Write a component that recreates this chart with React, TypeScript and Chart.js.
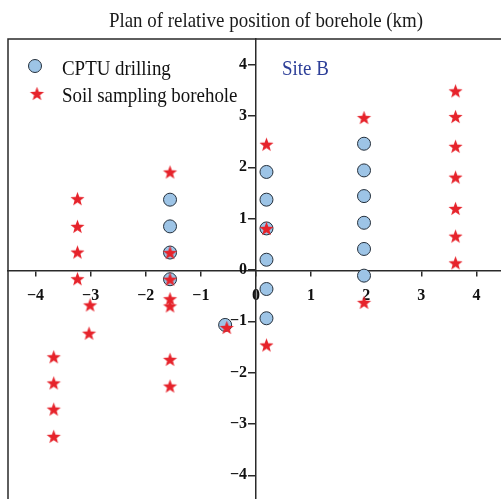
import React, { useEffect, useRef } from 'react';
import { Chart, registerables } from 'chart.js';

Chart.register(...registerables);

// ---- data ----
const tickValues = [-4, -3, -2, -1, 0, 1, 2, 3, 4];

const cptuX = [
  -1.56, -1.56, -1.56, -1.56,
  -0.56,
  0.19, 0.19, 0.19, 0.19, 0.19, 0.19,
  1.96, 1.96, 1.96, 1.96, 1.96, 1.96,
];
const cptuY = [
  1.37, 0.85, 0.34, -0.18,
  -1.07,
  1.91, 1.37, 0.81, 0.2, -0.37, -0.94,
  2.46, 1.94, 1.44, 0.92, 0.41, -0.11,
];

const soilX = [
  -3.67, -3.67, -3.67, -3.67,
  -3.24, -3.24, -3.24, -3.24,
  -3.01, -3.03,
  -1.56, -1.56, -1.56, -1.56, -1.56, -1.56, -1.56,
  -0.53,
  0.19, 0.19, 0.19,
  1.96, 1.96,
  3.62, 3.62, 3.62, 3.62, 3.62, 3.62, 3.62,
];
const soilY = [
  -1.69, -2.2, -2.71, -3.24,
  1.39, 0.85, 0.35, -0.17,
  -0.68, -1.23,
  1.91, 0.34, -0.18, -0.56, -0.7, -1.74, -2.26,
  -1.12,
  2.45, 0.81, -1.46,
  2.97, -0.63,
  3.49, 2.99, 2.41, 1.81, 1.2, 0.66, 0.14,
];

const titleText = 'Plan of relative position of borehole (km)';
const legendLabels = ['CPTU drilling', 'Soil sampling borehole'];
const siteLabel = 'Site B';

// ---- styles ----
const W = 520;
const H = 520;
const CIRCLE_FILL = '#9dc4e6';
const CIRCLE_EDGE = '#25303c';
const STAR_RED = '#e6232b';
const AXIS_COLOR = '#2a2a2a';
const SERIF = "'Liberation Serif', 'Times New Roman', serif";
const SX = 0.86;

function makeStar(R: number, r: number, color: string): HTMLCanvasElement {
  const size = Math.ceil(2 * R) + 2;
  const c = document.createElement('canvas');
  c.width = size;
  c.height = size;
  const ctx = c.getContext('2d')!;
  ctx.fillStyle = color;
  ctx.beginPath();
  const cx = size / 2;
  const cy = size / 2 + (R - R * Math.cos(Math.PI / 5)) / 2;
  for (let i = 0; i < 10; i++) {
    const rad = i % 2 === 0 ? R : r;
    const a = -Math.PI / 2 + (i * Math.PI) / 5;
    const px = cx + rad * Math.cos(a);
    const py = cy + rad * Math.sin(a);
    if (i === 0) ctx.moveTo(px, py);
    else ctx.lineTo(px, py);
  }
  ctx.closePath();
  ctx.fill();
  return c;
}

const fmt = (v: number | string) => {
  const n = Number(v);
  return n < 0 ? '\u2212' + Math.abs(n) : String(n);
};

function drawSqueezed(
  ctx: CanvasRenderingContext2D,
  text: string,
  x: number,
  y: number,
  align: CanvasTextAlign,
  font: string,
  color: string
) {
  ctx.save();
  ctx.translate(x, y);
  ctx.scale(SX, 1);
  ctx.font = font;
  ctx.fillStyle = color;
  ctx.textAlign = align;
  ctx.textBaseline = 'alphabetic';
  ctx.fillText(text, 0, 0);
  ctx.restore();
}

export default function App() {
  const ref = useRef<HTMLCanvasElement | null>(null);

  useEffect(() => {
    if (!ref.current) return;
    const starImg = makeStar(7.4, 3.1, STAR_RED);

    const deco = {
      id: 'deco',
      beforeDatasetsDraw(chart: any) {
        const { ctx, chartArea } = chart;
        ctx.save();
        ctx.strokeStyle = AXIS_COLOR;
        ctx.lineWidth = 1.5;
        ctx.strokeRect(
          chartArea.left,
          chartArea.top,
          chartArea.right - chartArea.left,
          chartArea.bottom - chartArea.top
        );
        ctx.restore();
      },
      afterDraw(chart: any) {
        const { ctx } = chart;
        // title
        drawSqueezed(ctx, titleText, 266, 27, 'center', `22px ${SERIF}`, '#1a1a1a');
        // legend
        ctx.save();
        ctx.beginPath();
        ctx.arc(35, 66, 6.5, 0, Math.PI * 2);
        ctx.fillStyle = CIRCLE_FILL;
        ctx.fill();
        ctx.lineWidth = 1;
        ctx.strokeStyle = CIRCLE_EDGE;
        ctx.stroke();
        ctx.drawImage(starImg, 37 - starImg.width / 2, 93.5 - starImg.height / 2);
        ctx.restore();
        drawSqueezed(ctx, legendLabels[0], 62, 75, 'left', `22px ${SERIF}`, '#111');
        drawSqueezed(ctx, legendLabels[1], 62, 102, 'left', `22px ${SERIF}`, '#111');
        // site label
        drawSqueezed(ctx, siteLabel, 282, 75, 'left', `22px ${SERIF}`, '#2d3f98');
      },
    };

    const tickFont = { family: SERIF, size: 16, weight: 'bold' as const };

    const chart = new Chart(ref.current, {
      type: 'scatter',
      data: {
        datasets: [
          {
            label: legendLabels[1],
            data: soilX.map((x, i) => ({ x, y: soilY[i] })),
            pointStyle: starImg as any,
            pointRadius: 7,
            order: 1,
          },
          {
            label: legendLabels[0],
            data: cptuX.map((x, i) => ({ x, y: cptuY[i] })),
            pointStyle: 'circle',
            pointRadius: 6.5,
            backgroundColor: CIRCLE_FILL,
            borderColor: CIRCLE_EDGE,
            borderWidth: 1,
            order: 2,
          },
        ],
      },
      options: {
        animation: false,
        responsive: false,
        maintainAspectRatio: false,
        events: [],
        layout: { padding: { left: 8, top: 39, right: W - 504, bottom: H - 501 } },
        plugins: {
          legend: { display: false },
          title: { display: false },
          tooltip: { enabled: false },
        },
        scales: {
          x: {
            type: 'linear',
            min: -4.5,
            max: 4.5,
            position: 'center',
            afterFit: (s: any) => {
              s.height = 0;
            },
            afterBuildTicks: (s: any) => {
              s.ticks = tickValues.map((v) => ({ value: v }));
            },
            grid: {
              drawOnChartArea: false,
              drawTicks: true,
              tickLength: 5,
              color: AXIS_COLOR,
              lineWidth: 1.5,
            },
            border: { display: true, color: AXIS_COLOR, width: 1.5 },
            ticks: {
              font: tickFont,
              color: '#111',
              padding: 11,
              maxRotation: 0,
              autoSkip: false,
              callback: (v: any) => fmt(v),
            },
          },
          y: {
            type: 'linear',
            min: -4.5,
            max: 4.5,
            position: 'center',
            afterFit: (s: any) => {
              s.width = 0;
            },
            afterBuildTicks: (s: any) => {
              s.ticks = tickValues.map((v) => ({ value: v }));
            },
            grid: {
              drawOnChartArea: false,
              drawTicks: true,
              tickLength: 7,
              color: AXIS_COLOR,
              lineWidth: 1.5,
            },
            border: { display: true, color: AXIS_COLOR, width: 1.5 },
            ticks: {
              font: tickFont,
              color: '#111',
              padding: 2,
              autoSkip: false,
              callback: (v: any) => fmt(v),
            },
          },
        },
      },
      plugins: [deco],
    });

    return () => chart.destroy();
  }, []);

  return (
    <div
      style={{
        position: 'fixed',
        left: 0,
        top: 0,
        width: 501,
        height: 499,
        overflow: 'hidden',
        background: '#fff',
      }}
    >
      <canvas ref={ref} width={W} height={H} style={{ display: 'block', width: W, height: H }} />
    </div>
  );
}
